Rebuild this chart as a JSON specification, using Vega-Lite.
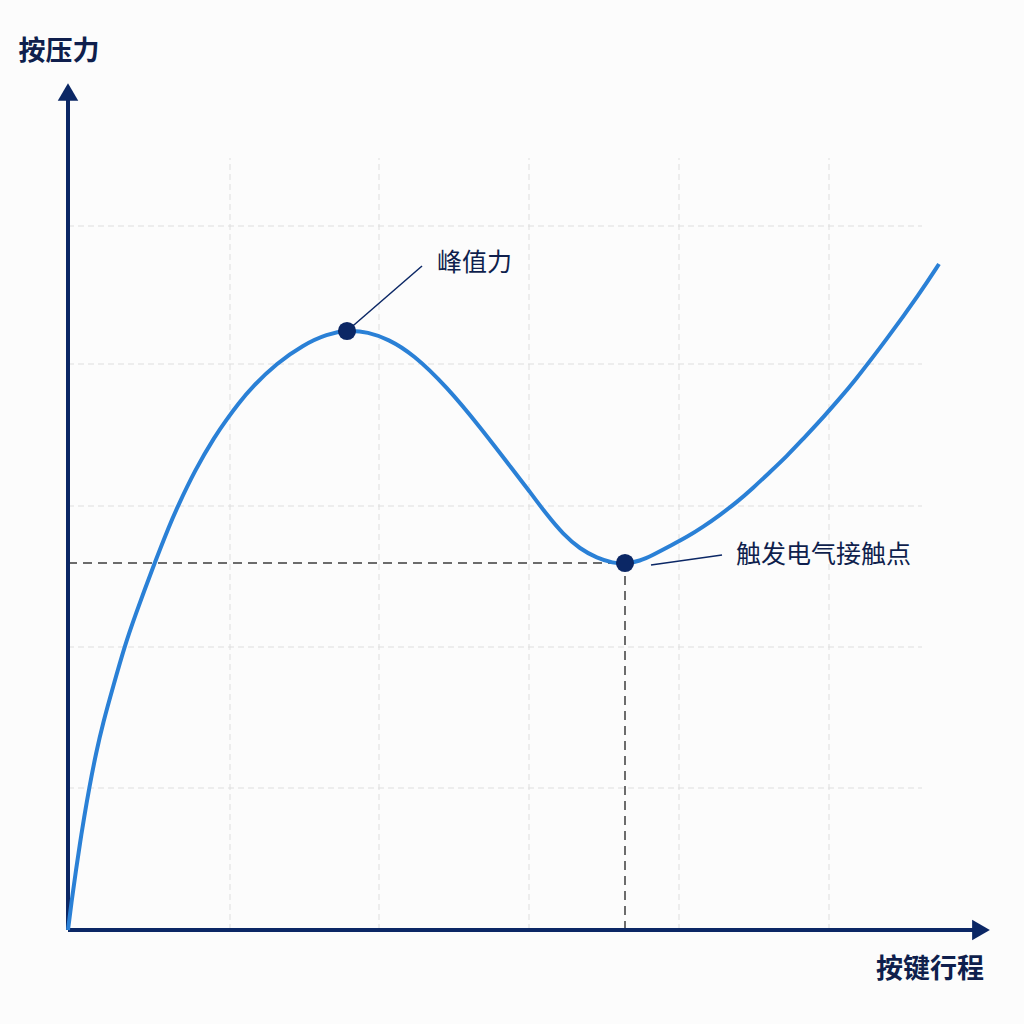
{
  "$schema": "https://vega.github.io/schema/vega-lite/v6.json",
  "width": 922,
  "height": 848,
  "autosize": "none",
  "padding": {"left": 68, "top": 82, "right": 34, "bottom": 94},
  "background": "#fcfcfc",
  "config": {"view": {"stroke": null}, "font": "Noto Sans CJK SC"},
  "datasets": {
    "grid": [
      {"x": 162, "y": 0, "x2": 162, "y2": 772},
      {"x": 311, "y": 0, "x2": 311, "y2": 772},
      {"x": 461, "y": 0, "x2": 461, "y2": 772},
      {"x": 611, "y": 0, "x2": 611, "y2": 772},
      {"x": 761, "y": 0, "x2": 761, "y2": 772},
      {"x": 0, "y": 142, "x2": 854, "y2": 142},
      {"x": 0, "y": 283, "x2": 854, "y2": 283},
      {"x": 0, "y": 424, "x2": 854, "y2": 424},
      {"x": 0, "y": 566, "x2": 854, "y2": 566},
      {"x": 0, "y": 704, "x2": 854, "y2": 704}
    ],
    "guides": [
      {"x": 0, "y": 367, "x2": 557, "y2": 367},
      {"x": 557, "y": 0, "x2": 557, "y2": 367}
    ],
    "axes": [
      {"x": 0, "y": 0, "x2": 0, "y2": 832},
      {"x": 0, "y": 0, "x2": 906, "y2": 0}
    ],
    "arrowUp": [{"x": 0, "y": 838}],
    "arrowRight": [{"x": 913, "y": 0}],
    "curve": [
      {"x": 0, "y": 0},
      {"x": 4, "y": 32},
      {"x": 8, "y": 60},
      {"x": 12, "y": 87},
      {"x": 16, "y": 112},
      {"x": 21, "y": 141},
      {"x": 28, "y": 177},
      {"x": 35, "y": 207},
      {"x": 45, "y": 243},
      {"x": 57, "y": 285},
      {"x": 67, "y": 314},
      {"x": 85, "y": 363},
      {"x": 102, "y": 406},
      {"x": 109, "y": 422},
      {"x": 127, "y": 460},
      {"x": 147, "y": 494},
      {"x": 159, "y": 511},
      {"x": 170, "y": 526},
      {"x": 184, "y": 543},
      {"x": 209, "y": 567},
      {"x": 235, "y": 585},
      {"x": 259, "y": 596},
      {"x": 280, "y": 600},
      {"x": 300, "y": 598},
      {"x": 320, "y": 591},
      {"x": 345, "y": 576},
      {"x": 379, "y": 543},
      {"x": 412, "y": 503},
      {"x": 445, "y": 460},
      {"x": 462, "y": 438},
      {"x": 479, "y": 415},
      {"x": 495, "y": 396},
      {"x": 512, "y": 381},
      {"x": 529, "y": 372},
      {"x": 545, "y": 367},
      {"x": 557, "y": 366},
      {"x": 572, "y": 369},
      {"x": 585, "y": 375},
      {"x": 602, "y": 384},
      {"x": 619, "y": 393},
      {"x": 635, "y": 403},
      {"x": 652, "y": 415},
      {"x": 669, "y": 428},
      {"x": 685, "y": 442},
      {"x": 702, "y": 458},
      {"x": 719, "y": 474},
      {"x": 735, "y": 491},
      {"x": 752, "y": 509},
      {"x": 772, "y": 532},
      {"x": 785, "y": 547},
      {"x": 819, "y": 591},
      {"x": 852, "y": 637},
      {"x": 871, "y": 666}
    ],
    "leaders": [
      {"x": 279, "y": 599, "x2": 354, "y2": 664},
      {"x": 583, "y": 365, "x2": 654, "y2": 375}
    ],
    "dots": [
      {"x": 279, "y": 599},
      {"x": 557, "y": 367}
    ],
    "labels": [
      {"x": 369, "y": 667, "label": "峰值力"},
      {"x": 668, "y": 375, "label": "触发电气接触点"}
    ],
    "titles": [
      {"x": -9, "y": 878, "label": "按压力"},
      {"x": 862, "y": -40, "label": "按键行程"}
    ]
  },
  "encoding": {
    "x": {"field": "x", "type": "quantitative", "scale": {"domain": [0, 922], "nice": false, "zero": false}, "axis": null},
    "y": {"field": "y", "type": "quantitative", "scale": {"domain": [0, 848], "nice": false, "zero": false}, "axis": null}
  },
  "layer": [
    {
      "data": {"name": "grid"},
      "mark": {"type": "rule", "color": "#dedede", "strokeWidth": 1, "strokeDash": [6, 4]},
      "encoding": {"x2": {"field": "x2"}, "y2": {"field": "y2"}}
    },
    {
      "data": {"name": "guides"},
      "mark": {"type": "rule", "color": "#6c6c6c", "strokeWidth": 2, "strokeDash": [9, 6]},
      "encoding": {"x2": {"field": "x2"}, "y2": {"field": "y2"}}
    },
    {
      "data": {"name": "axes"},
      "mark": {"type": "rule", "color": "#0b2765", "strokeWidth": 4},
      "encoding": {"x2": {"field": "x2"}, "y2": {"field": "y2"}}
    },
    {
      "data": {"name": "arrowUp"},
      "mark": {"type": "point", "shape": "triangle-up", "filled": true, "size": 420, "color": "#0b2765", "opacity": 1}
    },
    {
      "data": {"name": "arrowRight"},
      "mark": {"type": "point", "shape": "triangle-right", "filled": true, "size": 420, "color": "#0b2765", "opacity": 1}
    },
    {
      "data": {"name": "curve"},
      "mark": {"type": "line", "color": "#2a80d6", "strokeWidth": 4, "interpolate": "basis"}
    },
    {
      "data": {"name": "leaders"},
      "mark": {"type": "rule", "color": "#0b2765", "strokeWidth": 1.5},
      "encoding": {"x2": {"field": "x2"}, "y2": {"field": "y2"}}
    },
    {
      "data": {"name": "dots"},
      "mark": {"type": "point", "shape": "circle", "filled": true, "size": 330, "color": "#0b2765", "opacity": 1}
    },
    {
      "data": {"name": "labels"},
      "mark": {"type": "text", "align": "left", "baseline": "middle", "fontSize": 25, "color": "#0f1f4d"},
      "encoding": {"text": {"field": "label"}}
    },
    {
      "data": {"name": "titles"},
      "mark": {"type": "text", "align": "center", "baseline": "middle", "fontSize": 27, "fontWeight": "bold", "color": "#0f1f4d"},
      "encoding": {"text": {"field": "label"}}
    }
  ]
}
